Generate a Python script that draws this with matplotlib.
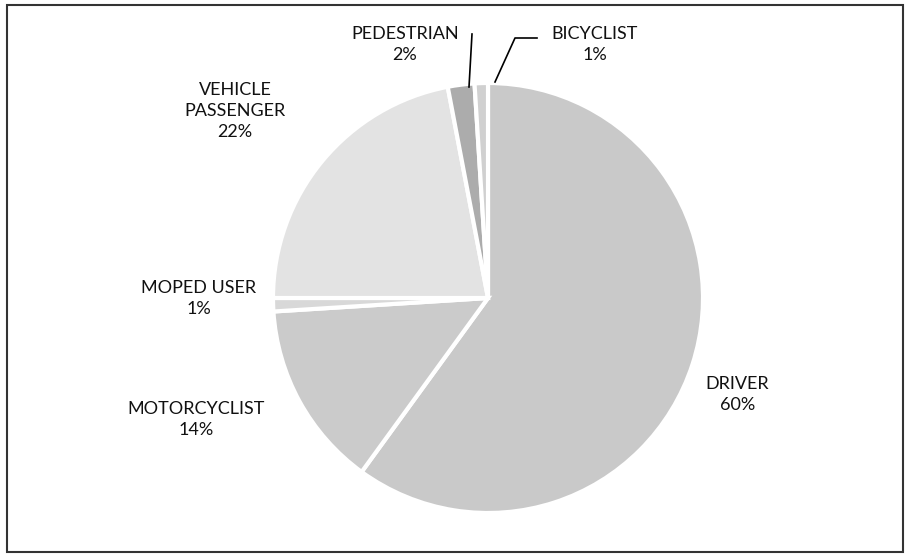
import matplotlib.pyplot as plt
from matplotlib.patches import Rectangle

labels = ['DRIVER', 'MOTORCYCLIST', 'MOPED USER', 'VEHICLE\nPASSENGER', 'PEDESTRIAN', 'BICYCLIST']
values = [60, 14, 1, 22, 2, 1]
colors = ['#c9c9c9', '#cbcbcb', '#d8d8d8', '#e3e3e3', '#acacac', '#d0d0d0']

# label spots in figure fraction (x, y)
label_pos = [(0.812, 0.29), (0.216, 0.245), (0.219, 0.463), (0.259, 0.80), (0.446, 0.92), (0.655, 0.92)]

plt.rcParams['font.family'] = ['Lato', 'DejaVu Sans']

fig = plt.figure(figsize=(9.08, 5.56), dpi=100)
ax = fig.add_axes([(488 - 215) / 908, 1 - 513 / 556, 430 / 908, 430 / 556])

wedges, _ = ax.pie(values, colors=colors, startangle=90, counterclock=False,
                   wedgeprops=dict(edgecolor='white', linewidth=3))
ax.set_xlim(-1, 1)
ax.set_ylim(-1, 1)
ax.set_aspect('equal')

for lab, v, (x, y) in zip(labels, values, label_pos):
    fig.text(x, y, f'{lab}\n{v}%', ha='center', va='center', fontsize=13,
             color='#111111', linespacing=1.4)

# leader lines for the two thin top slices
fig.add_artist(plt.Line2D([469 / 908, 472 / 908], [1 - 87 / 556, 1 - 34 / 556],
                          color='black', lw=1.2))
fig.add_artist(plt.Line2D([495 / 908, 515 / 908, 537 / 908], [1 - 82 / 556, 1 - 38 / 556, 1 - 38 / 556],
                          color='black', lw=1.2))

fig.add_artist(Rectangle((7 / 908, 4 / 556), 896 / 908, 547 / 556, transform=fig.transFigure,
                         fill=False, edgecolor='#333333', lw=1.5))

fig.savefig('out.png', dpi=100)
